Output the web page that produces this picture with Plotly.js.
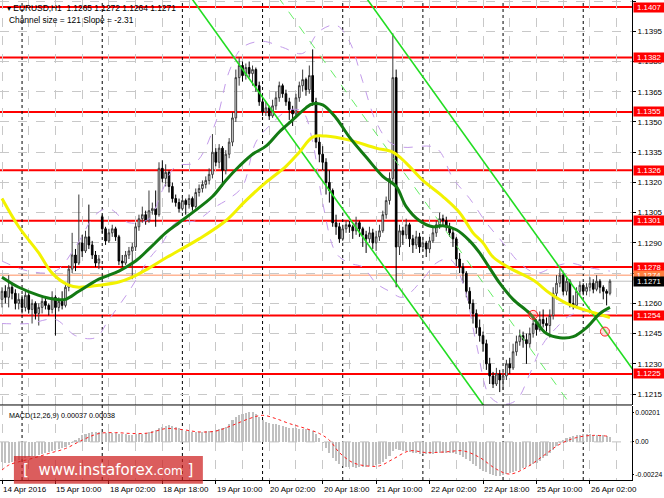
<!DOCTYPE html>
<html>
<head>
<meta charset="utf-8">
<script src="https://cdn.plot.ly/plotly-3.0.1.min.js"></script>
<style>
html, body { margin: 0; padding: 0; background: #fff; }
#chart { width: 664px; height: 498px; }
</style>
</head>
<body>
<div id="chart"></div>
<script>
// ── EURUSD H1, prices kept as pips above 1.1200 ───────────────
var BASE = 1.12;

var openP = [
    62,66,63,68,65,60,62,58,64,57, 60,55,58,61,59,57,63,58,61,59,
    68,77,84,80,90,86,93,89,84,80, 103,97,91,95,97,93,81,80,84,86,
    88,98,102,104,101,106,107,104,127,122, 125,118,112,110,107,111,109,112,108,115,
    117,119,121,124,135,130,137,126,134,140, 152,172,178,173,177,174,176,168,160,155,
    157,153,158,162,168,164,160,156,154,162, 168,171,166,173,160,140,134,130,120,116,
    100,98,92,97,99,98,96,100,97,94, 92,95,90,93,96,104,111,122,172,88,
    96,94,99,92,89,93,88,90,87,91, 95,99,102,101,98,95,92,82,78,75,
    66,60,55,48,44,40,30,24,20,25, 22,24,30,28,36,41,44,42,40,45,
    50,47,52,50,49,54,65,70,74,66, 71,60,59,66,69,66,68,70,67,71,
    68,66,65
];
var highP = [
    68,69,74,70,67,65,64,66,65,62, 61,60,63,63,60,66,64,63,66,70,
    79,95,87,114,94,96,109,91,86,84, 104,98,97,99,98,94,84,86,88,90,
    100,104,108,106,116,110,116,130,131,129, 126,120,114,112,113,112,114,113,117,119,
    121,123,127,144,137,139,138,136,142,155, 176,182,180,179,180,178,177,170,162,160,
    158,161,165,170,169,166,162,158,164,170, 176,172,178,186,162,143,138,132,126,117,
    104,100,99,101,101,99,103,101,98,96, 98,97,96,99,106,113,125,194,176,99,
    98,102,100,94,96,95,93,91,93,98, 101,105,104,103,100,97,93,85,80,76,
    68,62,57,52,46,42,33,26,28,27, 26,32,33,40,44,47,46,45,48,53,
    52,56,57,53,57,68,74,77,75,73, 72,64,68,71,70,70,73,72,74,72,
    69,67,72
];
var lowP = [
    58,60,58,62,57,57,55,56,55,50, 52,49,55,57,54,55,44,56,57,58,
    66,75,76,79,83,85,87,82,78,77, 95,89,90,93,91,79,78,79,82,72,
    86,96,100,99,100,104,98,103,120,118, 115,110,108,105,106,104,107,106,107,113,
    115,117,119,122,128,127,118,124,132,138, 150,168,170,171,172,168,165,158,153,153,
    151,152,156,160,162,158,151,148,152,160, 165,163,164,158,137,130,126,114,110,98,
    94,90,91,95,95,92,94,93,88,85, 90,87,86,91,95,102,109,120,68,84,
    89,92,88,85,87,85,86,83,85,90, 93,97,98,96,93,88,78,75,70,63,
    57,50,45,41,36,27,20,18,19,16, 17,22,25,27,34,39,38,30,38,43,
    44,46,48,46,43,52,62,68,64,64, 58,57,58,64,64,64,66,65,66,65,
    62,59,64
];
var closeP = [
    66,63,68,65,60,62,58,64,57,60, 55,58,61,59,57,63,58,61,59,68,
    77,84,80,90,86,93,89,84,80,82, 97,91,95,97,93,81,80,84,86,88,
    98,102,104,101,106,107,104,127,122,125, 118,112,110,107,111,109,112,108,115,117,
    119,121,124,135,130,137,126,134,140,152, 172,178,173,177,174,176,168,160,155,157,
    153,158,162,168,164,160,156,154,162,168, 171,166,173,160,140,134,130,120,116,100,
    98,92,97,99,98,96,100,97,94,92, 95,90,93,96,104,111,122,172,88,96,
    94,99,92,89,93,88,90,87,91,95, 99,102,101,98,95,92,82,78,75,66,
    60,55,48,44,40,30,24,20,25,22, 24,30,28,36,41,44,42,40,45,50,
    47,52,50,49,54,65,70,74,66,71, 60,59,66,69,66,68,70,67,71,68,
    66,65,71
];

// time axis (bar index)
var tickBars = [0, 16, 32, 48, 64, 80, 96, 112, 128, 144, 160, 176];
var tickText = ['14 Apr 2016', '15 Apr 10:00', '18 Apr 02:00', '18 Apr 18:00', '19 Apr 10:00', '20 Apr 02:00',
                '20 Apr 18:00', '21 Apr 10:00', '22 Apr 02:00', '22 Apr 18:00', '25 Apr 10:00', '26 Apr 02:00'];
var daySeps = [6, 30, 54, 78, 102, 126, 150, 174];
// price scale ticks; 1.1275 sits fully under the level boxes
var priceTicks = [15, 30, 45, 60, 75, 90, 105, 120, 135, 150, 165, 180, 195, 210];
var priceTickText = ['1.1215', '1.1230', '1.1245', '1.1260', '', '1.1290', '1.1305', '1.1320', '1.1335', '1.1350', '1.1365', '1.1380', '1.1395', '1.1410'];

// support / resistance levels
var levels = [207, 182, 155, 126, 101, 78, 54, 25];
var askLevel = 74, bidLevel = 71;

// moving averages (read at sample bars)
var greenBars = [0,5,11,16,19,23,29,35,40,44,49,53,57,63,67,71,75,79,83,87,91,93,96,100,104,109,114,118,121,125,129,132,136,140,143,146,149,153,158,163,167,171,175,179,182];
var greenVals = [73,68,64,62,62,66,72,76,81,87,95,100,105,113,121,128,134,138,145,151,157,159,158.5,152,142.5,132.6,123,118,108,101,98,98.5,96.5,91,85,77.5,70,62,55,45,43,43.5,48,55,58];
var yellowBars = [0,5,11,15,20,23,29,35,39,44,49,59,67,73,79,85,89,93,97,104,112,117,121,126,132,137,141,144,147,152,159,164,169,174,179,182];
var yellowVals = [112,98,85,75,69,68,69,70.6,73,77.5,82.5,92,101,111,120,128,135,142.5,143,141,137,135,129.6,121,113,105,95,90,83,77.5,71.6,65,60,57,54.5,53];

// envelope bands
var upBars = [0,8,16,22,28,32,38,44,48,52,58,64,68,72,78,84,90,95,100,104,108,112,116,120,130,135,140,145,150,155,160,165,170,175,182];
var upVals = [81,76,76,88,104,107,100,102,116,128,130,150,175,187,190,187,184,195,198,190,170,150,140,137.5,137,122,112,100,90,80,75,78,80,78,76];
var loBars = [0,8,16,22,28,32,38,44,48,52,58,64,68,72,76,80,86,90,93,96,100,104,108,112,116,120,126,130,134,138,142,146,150,154,158,162,166,170,175,182];
var loVals = [50,50,52,44,43,52,66,82,90,100,101,108,112,118,140,148,156,155,140,110,85,80,78,70,66,63,72,80,82,70,40,14,10,12,25,40,48,54,56,56];

// regression channel anchors (slope -2.31, size 121)
var chanBars = [45, 190];
var chanLow  = [238.5, -96.5];
var chanMid  = [299, -36];
var chanHigh = [359.5, 24.5];

// marked points
var markBars = [159, 180.5];
var markVals = [54.3, 46];

// MACD(12,26,9), units of 0.00001
var macdHist = [
    -140,-147,-145,-138,-130,-125,-118,-112,-108,-100, -95,-90,-82,-76,-70,-62,-58,-52,-44,-36,
    -25,-8,12,30,45,58,64,67,69,68, 66,64,62,61,60,58,55,52,50,50,
    53,56,58,62,68,75,82,95,106,112, 115,110,102,94,86,78,72,69,68,68,
    70,72,74,76,80,86,94,104,125,150, 170,184,195,203,206,207,195,175,155,138,
    128,124,122,116,110,104,99,95,93,92, 91,89,85,72,55,25,-10,-45,-75,-110,
    -135,-152,-165,-172,-175,-177,-178,-177,-175,-172, -168,-165,-158,-150,-140,-120,-95,-60,-50,-55,
    -60,-63,-68,-74,-80,-85,-87,-87,-86,-84, -80,-76,-74,-74,-76,-80,-84,-92,-105,-120,
    -134,-150,-168,-185,-200,-212,-222,-230,-235,-233, -228,-222,-215,-207,-200,-192,-184,-176,-165,-154,
    -143,-130,-115,-97,-78,-55,-30,-5,15,28, 36,42,46,50,52,53,52,50,49,48,
    45,42,37
];
var sigBars = [0,2,5,9,14,19,24,29,34,39,44,49,54,59,64,69,74,78,82,86,91,95,98,101,105,109,113,117,122,127,133,138,143,148,152,157,162,167,172,177,182];
var sigVals = [-195,-161,-138,-115,-80,-46,12,58,64,58,62,92,85,69,75,115,161,184,161,127,92,58,12,-74,-143,-166,-166,-120,-62,-74,-69,-62,-108,-189,-223,-177,-97,-16,30,45,38];

// ── build ─────────────────────────────────────────────────────
function px(v) { return BASE + v / 10000; }
function pxs(a) { return a.map(px); }
var bars = closeP.map(function (_, i) { return i; });
var FONT = 'Liberation Sans, Arial, sans-serif';

var traces = [
    { type: 'scatter', mode: 'lines', x: upBars, y: pxs(upVals), line: { color: '#c39bea', width: 1, dash: 'dash', shape: 'spline' }, hoverinfo: 'skip' },
    { type: 'scatter', mode: 'lines', x: loBars, y: pxs(loVals), line: { color: '#c39bea', width: 1, dash: 'dash', shape: 'spline' }, hoverinfo: 'skip' },
    { type: 'scatter', mode: 'lines', x: chanBars, y: pxs(chanMid), line: { color: '#66ee66', width: 1, dash: 'dash' }, hoverinfo: 'skip' },
    { type: 'scatter', mode: 'lines', x: chanBars, y: pxs(chanLow), line: { color: '#22dd22', width: 1.6 }, hoverinfo: 'skip' },
    { type: 'scatter', mode: 'lines', x: chanBars, y: pxs(chanHigh), line: { color: '#22dd22', width: 1.6 }, hoverinfo: 'skip' },
    { type: 'scatter', mode: 'lines', x: yellowBars, y: pxs(yellowVals), line: { color: '#f2f200', width: 3, shape: 'spline' }, hoverinfo: 'skip' },
    { type: 'scatter', mode: 'lines', x: greenBars, y: pxs(greenVals), line: { color: '#137a13', width: 3, shape: 'spline' }, hoverinfo: 'skip' },
    {
        type: 'candlestick', x: bars,
        open: pxs(openP), high: pxs(highP), low: pxs(lowP), close: pxs(closeP),
        increasing: { line: { color: '#3a3a3a', width: 1 }, fillcolor: '#ffffff' },
        decreasing: { line: { color: '#000000', width: 1 }, fillcolor: '#000000' },
        whiskerwidth: 0, hoverinfo: 'skip'
    },
    { type: 'scatter', mode: 'markers', x: markBars, y: pxs(markVals),
      marker: { size: 9, color: 'rgba(255,120,120,0.25)', line: { color: '#ff2020', width: 1 } }, hoverinfo: 'skip' },
    { type: 'bar', x: bars, y: macdHist.map(function (v) { return v / 100000; }), yaxis: 'y2',
      marker: { color: '#c0c0c0' }, width: 0.62, hoverinfo: 'skip' },
    { type: 'scatter', mode: 'lines', x: sigBars, y: sigVals.map(function (v) { return v / 100000; }), yaxis: 'y2',
      line: { color: '#ff2020', width: 1, dash: 'dot', shape: 'spline' }, hoverinfo: 'skip' }
];

var shapes = [];
levels.forEach(function (v) {
    shapes.push({ type: 'line', xref: 'paper', x0: 0, x1: 1, yref: 'y', y0: px(v), y1: px(v),
        line: { color: '#ff0000', width: 2 }, layer: 'below' });
});
shapes.push({ type: 'line', xref: 'paper', x0: 0, x1: 1, yref: 'y', y0: px(askLevel), y1: px(askLevel),
    line: { color: '#ff9060', width: 1 }, layer: 'below' });
shapes.push({ type: 'line', xref: 'paper', x0: 0, x1: 1, yref: 'y', y0: px(bidLevel), y1: px(bidLevel),
    line: { color: '#c0c0c0', width: 1 }, layer: 'below' });
daySeps.forEach(function (b) {
    shapes.push({ type: 'line', xref: 'x', x0: b, x1: b, yref: 'paper', y0: 0, y1: 1,
        line: { color: '#000', width: 1, dash: 'dot' }, layer: 'below' });
});
shapes.push({ type: 'line', xref: 'paper', x0: 0, x1: 1, yref: 'y2', y0: 0, y1: 0,
    line: { color: '#c0c0c0', width: 1, dash: 'dash' }, layer: 'below' });
shapes.push({ type: 'line', xref: 'paper', x0: 0, x1: 1, yref: 'paper', y0: 0.1563, y1: 0.1563,
    line: { color: '#000', width: 1 } });
// watermark box
shapes.push({ type: 'rect', xref: 'paper', yref: 'paper', x0: 0.022, x1: 0.321, y0: -0.008, y1: 0.05,
    fillcolor: 'rgba(205,30,30,0.72)', line: { width: 0 }, layer: 'above' });

var annotations = [
    { xref: 'paper', yref: 'paper', x: 0, y: 1, xanchor: 'left', yanchor: 'top', xshift: 5, yshift: -1,
      text: '▾ EURUSD,H1  1.1265 1.1272 1.1264 1.1271', showarrow: false, font: { family: FONT, size: 8.4, color: '#000' } },
    { xref: 'paper', yref: 'paper', x: 0, y: 1, xanchor: 'left', yanchor: 'top', xshift: 7, yshift: -13,
      text: 'Channel size = 121 Slope = -2.31', showarrow: false, font: { family: FONT, size: 8.4, color: '#000' } },
    { xref: 'paper', yref: 'paper', x: 0, y: 0.154, xanchor: 'left', yanchor: 'top', xshift: 7, yshift: -3,
      text: 'MACD(12,26,9) 0.00037 0.00038', showarrow: false, font: { family: FONT, size: 7.2, color: '#000' } },
    { xref: 'paper', yref: 'paper', x: 0.1715, y: 0.021, xanchor: 'center', yanchor: 'middle',
      text: '[  www.instaforex<span style="font-size:12px">.com</span> ]', showarrow: false,
      font: { family: 'DejaVu Sans, sans-serif', size: 15, color: '#ffffff' } }
];
tickBars.forEach(function (b, i) {
    annotations.push({ xref: 'x', yref: 'paper', x: b, y: 0, xanchor: 'left', yanchor: 'top', xshift: -1, yshift: -3,
        text: tickText[i], showarrow: false, font: { family: FONT, size: 8, color: '#000' } });
});
function levelLabel(v, bg, fg) {
    annotations.push({ xref: 'paper', yref: 'y', x: 1, y: px(v), xanchor: 'left', yanchor: 'middle', xshift: 1,
        text: px(v).toFixed(4), showarrow: false, bgcolor: bg, borderpad: 0, width: 30, height: 9,
        font: { family: FONT, size: 7.8, color: fg } });
}
levels.forEach(function (v) { levelLabel(v, '#ff0000', '#ffffff'); });
levelLabel(askLevel, '#ff7f3f', '#ffffff');
levelLabel(bidLevel, '#000000', '#ffffff');

var layout = {
    width: 664, height: 498,
    margin: { l: 0, r: 32, t: 0, b: 18 },
    paper_bgcolor: '#ffffff', plot_bgcolor: '#ffffff',
    showlegend: false, bargap: 0,
    font: { family: FONT, size: 8, color: '#000' },
    xaxis: {
        range: [-0.6, 188.6], anchor: 'y2', rangeslider: { visible: false },
        tickmode: 'array', tickvals: tickBars, showticklabels: false,
        ticks: 'outside', ticklen: 3, tickcolor: '#000',
        showgrid: true, gridcolor: '#c8c8c8', griddash: 'dash', gridwidth: 1,
        minor: { tickmode: 'linear', tick0: 8, dtick: 16, showgrid: true, gridcolor: '#c8c8c8', griddash: 'dash', gridwidth: 1 },
        showline: true, linecolor: '#000', zeroline: false
    },
    yaxis: {
        domain: [0.1563, 1], range: [px(9.6), px(210.5)], side: 'right',
        tickmode: 'array', tickvals: pxs(priceTicks), ticktext: priceTickText,
        ticks: 'outside', ticklen: 3, tickcolor: '#000',
        showgrid: true, gridcolor: '#c8c8c8', griddash: 'dash',
        showline: true, linecolor: '#000', mirror: true, zeroline: false,
        tickfont: { family: FONT, size: 8, color: '#000' }
    },
    yaxis2: {
        domain: [0, 0.154], range: [-0.00264, 0.00248], side: 'right',
        tickmode: 'array', tickvals: [0.00201, 0, -0.00224], ticktext: ['0.00201', '0.00', '-0.00224'],
        ticks: 'outside', ticklen: 1, tickcolor: '#000', showgrid: false,
        showline: true, linecolor: '#000', mirror: true, zeroline: false,
        tickfont: { family: FONT, size: 6.8, color: '#000' }
    },
    shapes: shapes,
    annotations: annotations
};

Plotly.newPlot('chart', traces, layout, { displayModeBar: false, staticPlot: true });
</script>
</body>
</html>
